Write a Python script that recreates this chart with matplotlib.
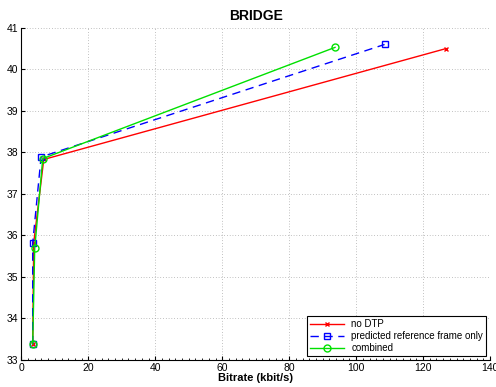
import numpy as np
import matplotlib
matplotlib.use('Agg')
import matplotlib.pyplot as plt

plt.rcParams['font.family'] = ['Liberation Sans', 'DejaVu Sans']

# values
rate_nodtp = [3.4, 3.7, 6.7, 126.8]
psnr_nodtp = [33.38, 35.82, 37.83, 40.50]
rate_pred = [3.4, 3.4, 5.9, 108.5]
psnr_pred = [33.38, 35.82, 37.89, 40.60]
rate_comb = [3.4, 4.0, 6.4, 93.7]
psnr_comb = [33.38, 35.69, 37.85, 40.53]

fig = plt.figure(figsize=(4.96, 3.87), dpi=100)
ax = fig.add_axes([0.043, 0.070, 0.945, 0.858])

ax.plot(rate_nodtp, psnr_nodtp, color='red', marker='x', markersize=3.5,
        linewidth=1.0, label='no DTP')
ax.plot(rate_pred, psnr_pred, color='blue', marker='s', markersize=4,
        markerfacecolor='none', linestyle=(0, (6, 4)), linewidth=1.0,
        label='predicted reference frame only')
ax.plot(rate_comb, psnr_comb, color='#00e000', marker='o', markersize=5,
        markerfacecolor='none', linewidth=1.0, label='combined')

ax.set_xlim(0, 140)
ax.set_ylim(33, 41)
ax.set_xticks(np.arange(0, 141, 20))
ax.set_yticks(np.arange(33, 42, 1))
ax.set_xticks(np.arange(0, 141, 2), minor=True)
ax.tick_params(direction='in', labelsize=7.5, length=3, pad=2)
ax.tick_params(which='minor', direction='in', length=1.5)
ax.grid(True, linestyle=(0, (1, 3)), color='#888888', linewidth=0.5)
ax.spines['top'].set_visible(False)
ax.spines['right'].set_visible(False)

ax.set_title('BRIDGE', fontsize=10, fontweight='bold', pad=6)
ax.set_xlabel('Bitrate (kbit/s)', fontsize=8, fontweight='bold', labelpad=0)

leg = ax.legend(loc='lower right', fontsize=7, fancybox=False, framealpha=1,
                edgecolor='black', borderpad=0.3, labelspacing=0.2,
                handlelength=3.5, borderaxespad=0.4)
leg.get_frame().set_linewidth(0.8)

fig.savefig('out.png', dpi=100)
